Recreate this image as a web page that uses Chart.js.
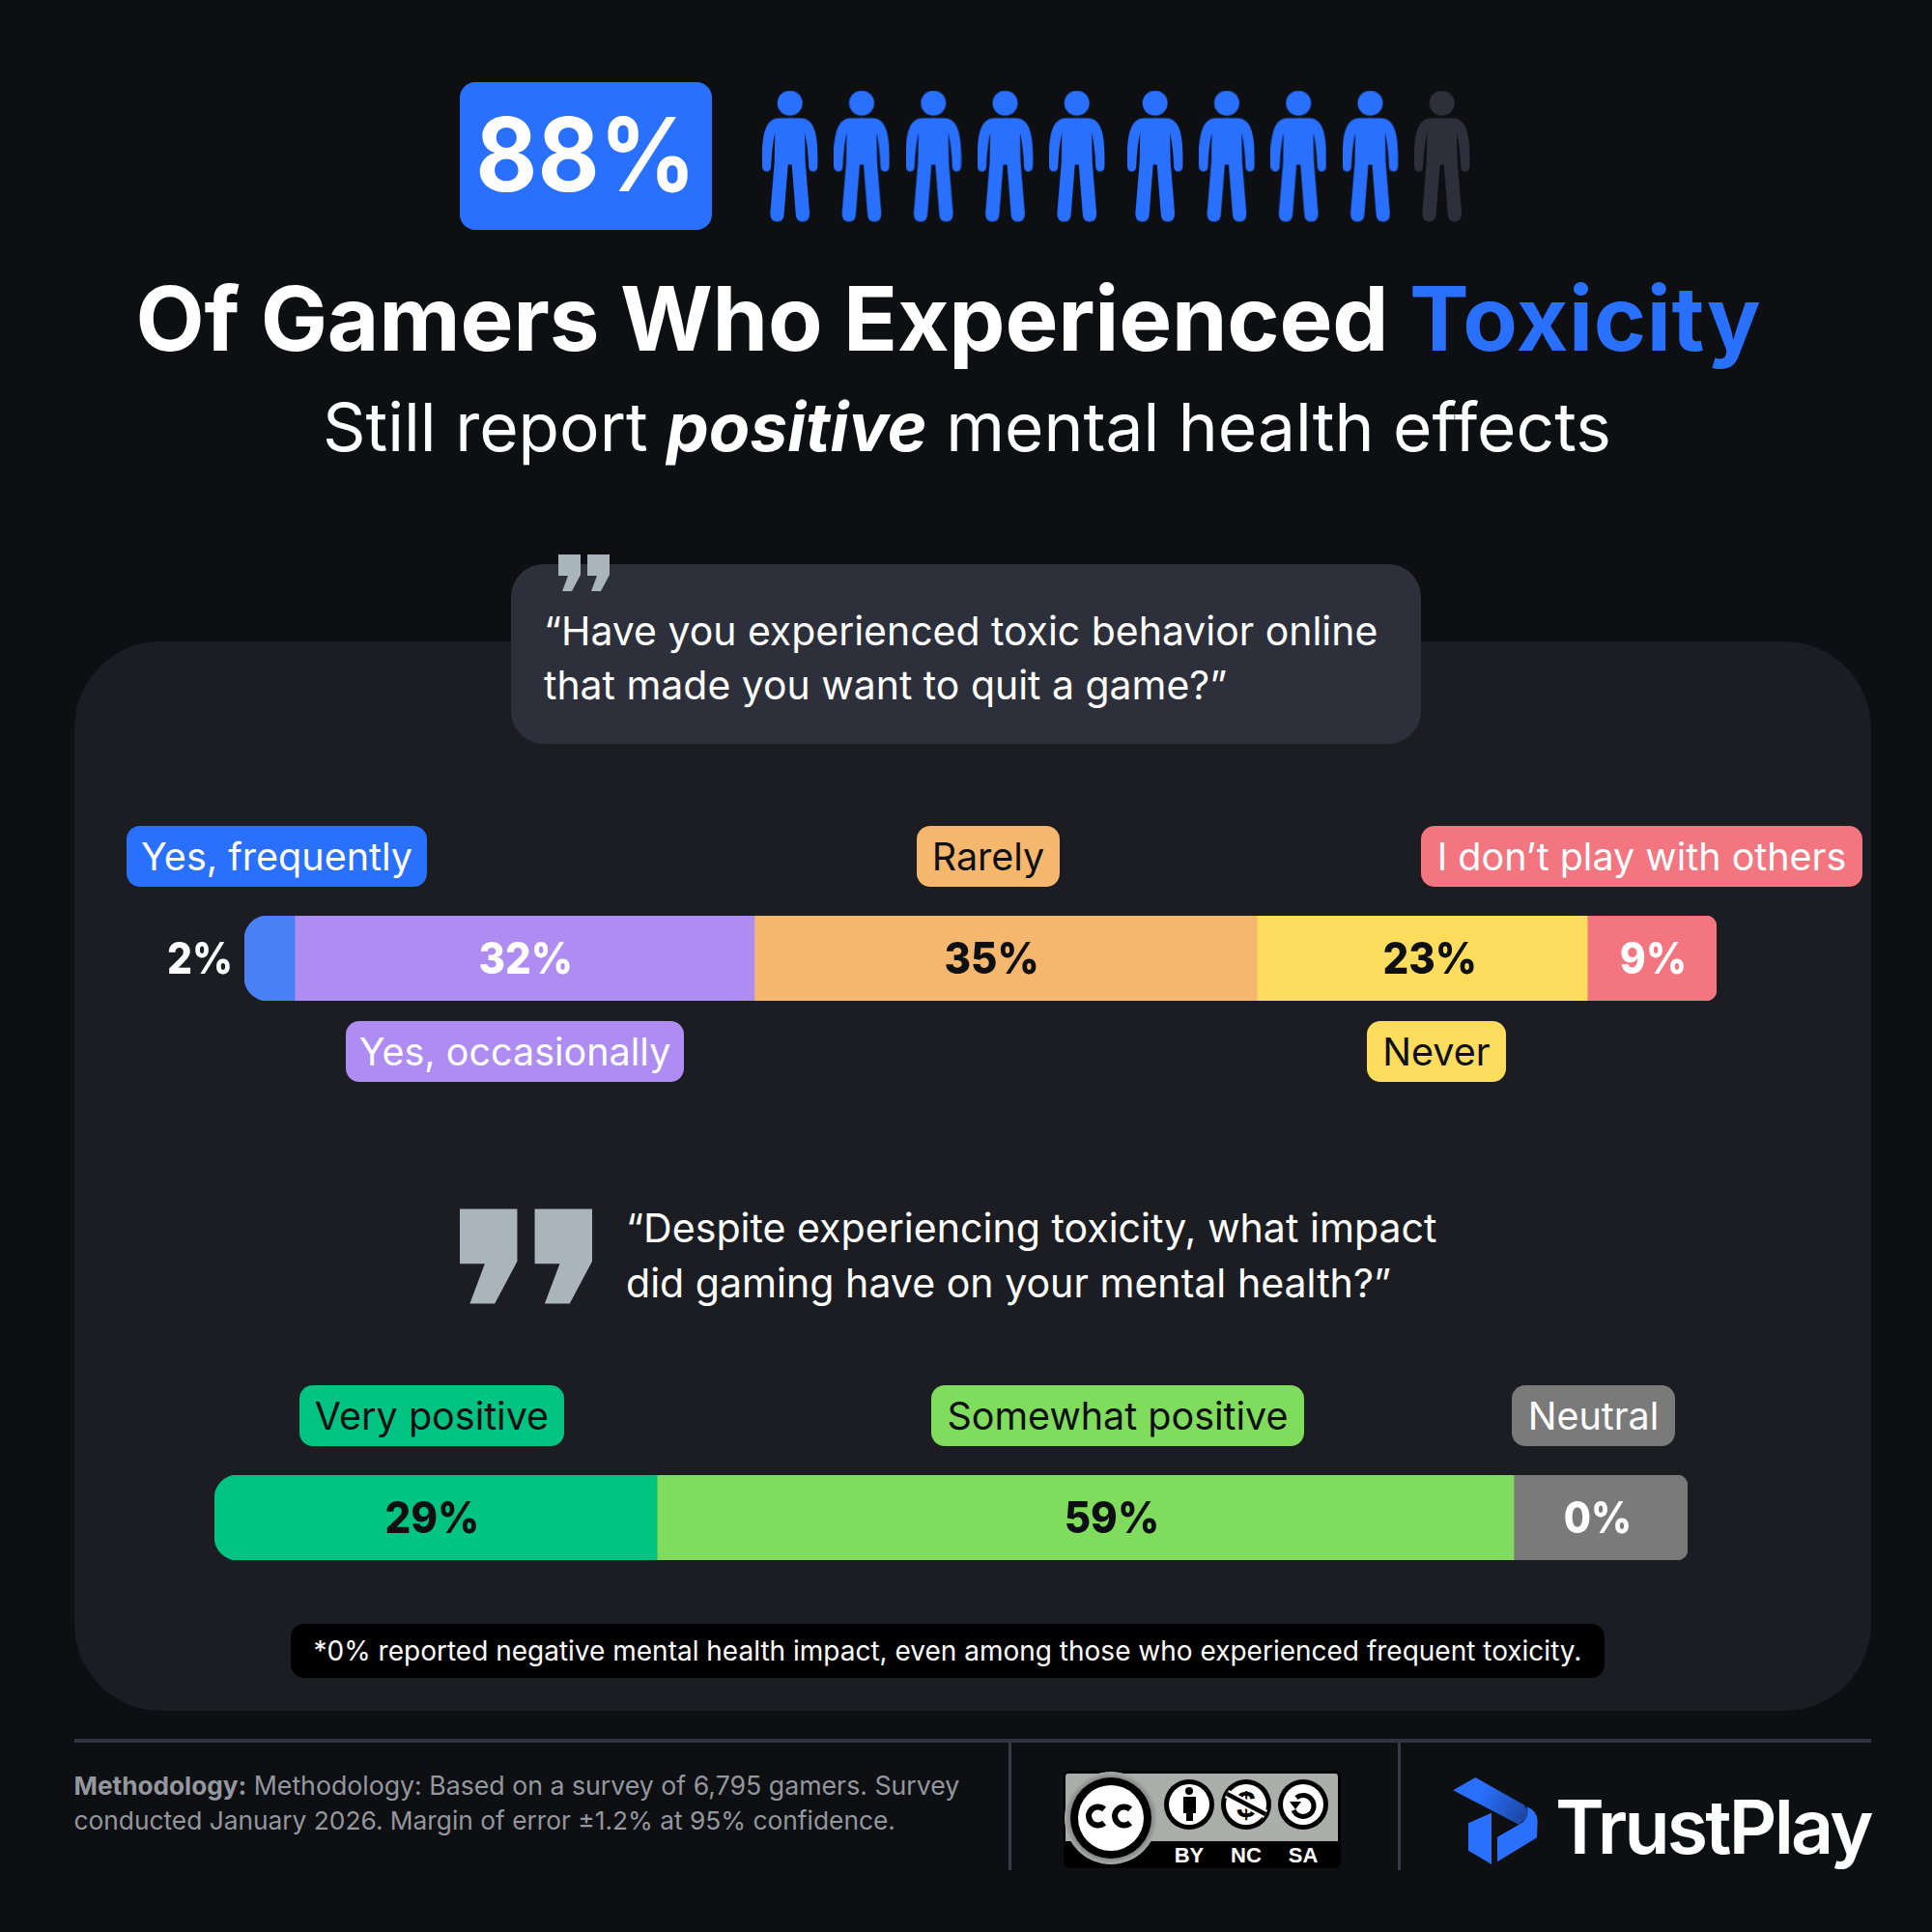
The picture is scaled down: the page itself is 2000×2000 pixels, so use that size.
<!DOCTYPE html>
<html>
<head>
<meta charset="utf-8">
<script src="https://cdn.jsdelivr.net/npm/chart.js@4"></script>
<style>
  html, body { margin: 0; padding: 0; background: #0d0f13; }
  #page { position: relative; width: 2000px; height: 2000px; overflow: hidden; background: #0d0f13; font-family: Inter, sans-serif; color: #fff; }
  #page > * { position: absolute; }
  .t { white-space: nowrap; line-height: 1; }
  .box { box-sizing: border-box; }
  .pill { display: flex; align-items: center; justify-content: center; height: 63px; border-radius: 14px; font-size: 39.5px; white-space: nowrap; }
  .dark { color: #0d0f13; }
  .foot { font-size: 26.3px; color: #94979e; left: 76.5px; }
  canvas { display: block; }
</style>
</head>
<body>
<div id="page">
  <div class="box" style="left:77px;top:664px;width:1860px;height:1107px;border-radius:90px;background:#1b1d22"></div>

  <div class="box" style="left:476px;top:85px;width:261px;height:153px;border-radius:16px;background:#2970ff"></div>
  <div class="t" style="left:476px;width:261px;text-align:center;top:107px;font-size:106px;font-weight:700;transform:scaleX(.93)">88%</div>
  <canvas id="people" style="left:787px;top:82px"></canvas>

  <div class="t" style="left:140.5px;top:283px;font-size:92.4px;font-weight:700;letter-spacing:-0.2px">Of Gamers Who Experienced <span style="color:#2970ff;letter-spacing:0.7px">Toxicity</span></div>
  <div class="t" style="left:334px;top:408px;font-size:69.4px">Still report <b style="font-style:italic">positive</b> mental health effects</div>

  <div class="box" style="left:529px;top:584px;width:942px;height:186px;border-radius:34px;background:#2d303a"></div>
  <svg style="left:578px;top:574px" width="53" height="38" viewBox="0 0 53 38"><path fill="#aab4bb" d="M0 0H23V21L14 38H4L10 22H0Z M30 0H53V21L44 38H34L40 22H30Z"/></svg>
  <div class="t" style="left:563px;top:633px;font-size:40.95px">“Have you experienced toxic behavior online</div>
  <div class="t" style="left:563px;top:689px;font-size:40.95px">that made you want to quit a game?”</div>

  <div class="pill" data-set="toxic" data-i="0" style="left:131px;top:855px;width:311px;background:#2970ff"></div>
  <div class="pill dark" data-set="toxic" data-i="2" style="left:949px;top:855px;width:148px;background:#f4b76d"></div>
  <div class="pill" data-set="toxic" data-i="4" style="left:1471px;top:855px;width:457px;background:#f2757f"></div>
  <canvas id="toxic" style="left:100px;top:948px"></canvas>
  <div class="pill" data-set="toxic" data-i="1" style="left:358px;top:1057px;width:350px;background:#ae8cf2"></div>
  <div class="pill dark" data-set="toxic" data-i="3" style="left:1415px;top:1057px;width:144px;background:#fedd5e"></div>

  <svg style="left:476px;top:1251px" width="137" height="99" viewBox="0 0 53 38"><path fill="#aab4bb" d="M0 0H23V21L14 38H4L10 22H0Z M30 0H53V21L44 38H34L40 22H30Z"/></svg>
  <div class="t" style="left:648px;top:1251px;font-size:41.1px">“Despite experiencing toxicity, what impact</div>
  <div class="t" style="left:648px;top:1308px;font-size:41.1px">did gaming have on your mental health?”</div>

  <div class="pill dark" data-set="mental" data-i="0" style="left:310px;top:1434px;width:274px;background:#02c482"></div>
  <div class="pill dark" data-set="mental" data-i="1" style="left:964px;top:1434px;width:386px;background:#80dc5c"></div>
  <div class="pill" data-set="mental" data-i="2" style="left:1565px;top:1434px;width:169px;background:#7a7a7a"></div>
  <canvas id="mental" style="left:100px;top:1527px"></canvas>

  <div class="pill" style="left:301px;top:1681px;width:1360px;height:56px;border-radius:14px;background:#000;font-size:28px">*0% reported negative mental health impact, even among those who experienced frequent toxicity.</div>

  <div class="box" style="left:77px;top:1800px;width:1860px;height:4px;background:#33343e"></div>
  <div class="box" style="left:1044px;top:1804px;width:3px;height:132px;background:#3a3b42"></div>
  <div class="box" style="left:1447px;top:1804px;width:3px;height:132px;background:#3a3b42"></div>

  <div class="t foot" style="top:1835px"><b style="font-size:26.2px">Methodology:</b> <span style="font-size:26.7px">Methodology: Based on a survey of 6,795 gamers. Survey</span></div>
  <div class="t foot" style="top:1872px">conducted January 2026. Margin of error ±1.2% at 95% confidence.</div>

  <svg style="left:1100px;top:1832px" width="290" height="104" viewBox="1100 1832 290 104" font-family="Liberation Sans, sans-serif">
    <defs>
      <radialGradient id="halo"><stop offset="0.8" stop-color="#6f7172"/><stop offset="1" stop-color="#a9aeaa"/></radialGradient>
      <clipPath id="badge"><rect x="1101" y="1833" width="287" height="101" rx="6"/></clipPath>
    </defs>
    <rect x="1101" y="1833" width="287" height="101" rx="6" fill="#000"/>
    <path d="M1106 1836H1382Q1385 1836 1385 1839V1906H1103V1839Q1103 1836 1106 1836Z" fill="#a9aeaa"/>
    <circle cx="1150" cy="1882" r="48" fill="url(#halo)" clip-path="url(#badge)"/>
    <circle cx="1150" cy="1882" r="42" fill="#000"/>
    <circle cx="1150" cy="1882" r="34" fill="#fff"/>
    <g fill="none" stroke="#000" stroke-width="6">
      <path d="M1143 1873A9.5 9.5 0 1 0 1143 1887"/>
      <path d="M1170 1873A9.5 9.5 0 1 0 1170 1887"/>
    </g>
    <circle cx="1231" cy="1868" r="26" fill="#000"/><circle cx="1231" cy="1868" r="21" fill="#fff"/>
    <circle cx="1231" cy="1854" r="4" fill="#000"/>
    <path d="M1225 1860H1238V1877H1235V1885H1228V1877H1225Z" fill="#000"/>
    <circle cx="1290" cy="1868" r="26" fill="#000"/><circle cx="1290" cy="1868" r="21" fill="#fff"/>
    <text x="1290" y="1881" text-anchor="middle" font-size="36" font-weight="700" fill="#000">$</text>
    <path d="M1270 1857L1310 1878" stroke="#fff" stroke-width="9"/>
    <path d="M1270 1857L1310 1878" stroke="#000" stroke-width="4.5"/>
    <circle cx="1349" cy="1868" r="26" fill="#000"/><circle cx="1349" cy="1868" r="21" fill="#fff"/>
    <path d="M1342 1861A11 11 0 1 1 1339 1874" fill="none" stroke="#000" stroke-width="5"/>
    <path d="M1335 1865H1347L1341 1873Z" fill="#000"/>
    <g font-size="22" font-weight="700" fill="#fff" text-anchor="middle">
      <text x="1231" y="1928">BY</text><text x="1290" y="1928">NC</text><text x="1349" y="1928">SA</text>
    </g>
  </svg>

  <svg style="left:1490px;top:1825px" width="120" height="120" viewBox="0 0 360 360">
    <defs><linearGradient id="fold" gradientUnits="userSpaceOnUse" x1="130" y1="90" x2="275" y2="175"><stop offset="0" stop-color="#2970ff"/><stop offset="1" stop-color="#1c449c"/></linearGradient></defs>
    <path fill="#2970ff" d="M272 136Q305 150 305 180L303 232L180 307V230L258 185Q280 165 272 136Z"/>
    <path fill="url(#fold)" d="M43 85L112 45L262 130Q282 150 270 170L248 192Z"/>
    <path fill="#2970ff" d="M162 155L90 187V272L162 315Z"/>
  </svg>
  <div class="t" style="left:1610px;top:1853px;font-size:77px;font-weight:600;letter-spacing:-2.8px">TrustPlay</div>
</div>

<script>
// first question
const toxic_labels = ["Yes, frequently", "Yes, occasionally", "Rarely", "Never", "I don’t play with others"];
const toxic_values = [2, 32, 35, 23, 9];
// the segments in the picture are not drawn to the printed numbers, so widths are read separately
const toxic_widths = [3.5, 32, 35, 23, 9];
const toxic_colors = ["#4a80f5", "#ae8cf2", "#f4b76d", "#fedd5e", "#f2757f"];
const toxic_text = ["#ffffff", "#ffffff", "#0d0f13", "#0d0f13", "#ffffff"];
const toxic_nudge = [0, 1.3, -14.5, 8, 1.3];

// second question
const mental_labels = ["Very positive", "Somewhat positive", "Neutral"];
const mental_values = [29, 59, 0];
const mental_widths = [30.8, 59.6, 12.1];
const mental_colors = ["#02c482", "#80dc5c", "#7a7a7a"];
const mental_text = ["#0d0f13", "#0d0f13", "#ffffff"];
const mental_nudge = [-3.7, 27.3, -3];

// pictogram, the sixth figure sits a little further along
const person_slots = [1, 2, 3, 4, 5, 6.09, 7.09, 8.09, 9.09, 10.09];
const person_filled = [1, 1, 1, 1, 1, 1, 1, 1, 1, 0];

const pill_text = { toxic: toxic_labels, mental: mental_labels };
document.querySelectorAll(".pill[data-set]").forEach(el => {
  el.textContent = pill_text[el.dataset.set][+el.dataset.i];
});

const percentLabels = {
  id: "percentLabels",
  afterDatasetsDraw(chart) {
    const ctx = chart.ctx;
    ctx.save();
    ctx.font = "800 45px Inter";
    ctx.textBaseline = "middle";
    chart.data.datasets.forEach((ds, i) => {
      const bar = chart.getDatasetMeta(i).data[0];
      const y = bar.y + 2;
      const text = ds.printed + "%";
      // the % in the reference is narrower than this Inter's, squeeze a little
      const fit = ctx.measureText(text).width - 7;
      ctx.fillStyle = ds.textColor;
      if (ds.outside) {
        ctx.textAlign = "right";
        ctx.fillText(text, bar.base - 12, y, fit);
      } else {
        ctx.textAlign = "center";
        ctx.fillText(text, (bar.x + bar.base) / 2 + ds.nudge, y, fit);
      }
    });
    ctx.restore();
  }
};

function stackedBar(id, pad, labels, values, widths, colors, text, nudge, outside) {
  const last = labels.length - 1;
  return new Chart(document.getElementById(id), {
    type: "bar",
    plugins: [percentLabels],
    data: {
      labels: ["share"],
      datasets: labels.map((label, i) => ({
        label: label,
        data: [widths[i]],
        printed: values[i],
        nudge: nudge[i],
        textColor: text[i],
        outside: outside && i == 0,
        backgroundColor: colors[i],
        borderSkipped: false,
        borderRadius: {
          topLeft: i == 0 ? 24 : 0,
          bottomLeft: i == 0 ? 24 : 0,
          topRight: i == last ? 11 : 0,
          bottomRight: i == last ? 11 : 0
        },
        categoryPercentage: 1,
        barPercentage: 1
      }))
    },
    options: {
      indexAxis: "y",
      responsive: false,
      devicePixelRatio: 1,
      animation: false,
      layout: { padding: { left: pad[0], right: pad[1], top: 0, bottom: 0 } },
      scales: {
        x: { stacked: true, display: false, min: 0, max: widths.reduce((a, b) => a + b, 0) },
        y: { stacked: true, display: false }
      },
      plugins: { legend: { display: false }, tooltip: { enabled: false } }
    }
  });
}

function personIcon(color) {
  const c = document.createElement("canvas");
  c.width = 58;
  c.height = 137;
  const g = c.getContext("2d");
  g.fillStyle = color;
  g.beginPath();
  g.arc(28.7, 13.3, 13, 0, Math.PI * 2);
  g.fill();
  // halves overlap past the middle so no seam shows
  const half = "M30 28.7H17.7C6 28.7 0 40 0 67V78Q0 84 4.7 84Q9.3 84 9.3 78Q9.8 60 13.3 43.7L12.7 74.3L8.3 127.7Q8.3 136 15.5 136Q22.7 136 22.7 127.7L26.7 77H30Z";
  g.fill(new Path2D(half));
  g.translate(57.4, 0);
  g.scale(-1, 1);
  g.fill(new Path2D(half));
  return c;
}

Chart.defaults.font.family = "Inter";

const blue_person = personIcon("#2970ff");
const grey_person = personIcon("#2d303a");
const people = document.getElementById("people");
people.width = 737;
people.height = 160;
new Chart(people, {
  type: "scatter",
  data: {
    datasets: [{
      data: person_slots.map(x => ({ x: x, y: 0 })),
      pointStyle: person_filled.map(f => f ? blue_person : grey_person),
      pointRadius: 30,
      clip: false
    }]
  },
  options: {
    responsive: false,
    devicePixelRatio: 1,
    animation: false,
    layout: { padding: { left: 27.7, right: 27.7, top: 0, bottom: 0 } },
    scales: {
      x: { display: false, min: 1, max: 10.09 },
      y: { display: false, min: -1, max: 1 }
    },
    plugins: { legend: { display: false }, tooltip: { enabled: false } }
  }
});

const toxic_canvas = document.getElementById("toxic");
toxic_canvas.width = 1700;
toxic_canvas.height = 88;
stackedBar("toxic", [153, 23], toxic_labels, toxic_values, toxic_widths, toxic_colors, toxic_text, toxic_nudge, true);

const mental_canvas = document.getElementById("mental");
mental_canvas.width = 1700;
mental_canvas.height = 88;
stackedBar("mental", [122, 53], mental_labels, mental_values, mental_widths, mental_colors, mental_text, mental_nudge, false);
</script>
</body>
</html>
